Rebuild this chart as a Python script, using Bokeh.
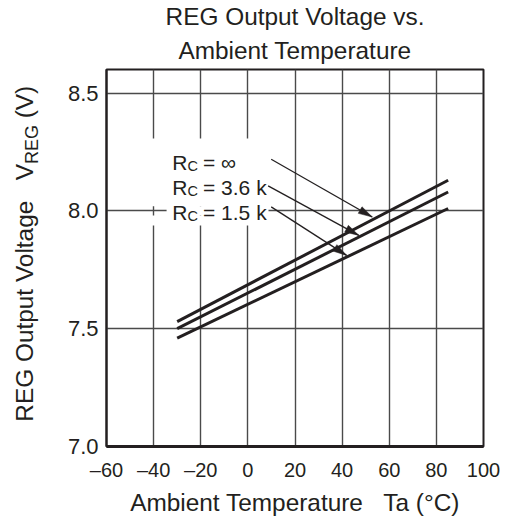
import math
from bokeh.plotting import figure
from bokeh.models import Label, FixedTicker, Title, Div
from bokeh.layouts import row
from bokeh.embed import file_html
from bokeh.resources import INLINE

# ---------------- data ----------------
temps = [-30, 85]
v_inf = [7.53, 8.13]
v_36 = [7.50, 8.08]
v_15 = [7.46, 8.01]

x_ticks = [-60, -40, -20, 0, 20, 40, 60, 80, 100]
x_tick_labels = ["\u201360", "\u201340", "\u201320", "0", "20", "40", "60", "80", "100"]
y_ticks = [7.0, 7.5, 8.0, 8.5]
y_tick_labels = ["7.0", "7.5", "8.0", "8.5"]

curve_names = ["\u221e", "3.6 k", "1.5 k"]
arrow_x0 = [9.9, 8.6, 9.9]
arrow_y0 = [8.219, 8.106, 8.017]
arrow_x1 = [52.8, 47.1, 41.9]
arrow_y1 = [7.974, 7.896, 7.811]

# ---------------- style ----------------
FONT = "Liberation Sans"
INK = "#231f20"
BIG = "24.4px"
X0, X1 = -60, 100
Y0, Y1 = 7.0, 8.6
FW = FH = 377
DIV_W = 45
CANVAS_H = 522

p = figure(frame_width=FW, frame_height=FH, x_range=(X0, X1), y_range=(Y0, Y1),
           output_backend="svg", toolbar_location=None, title=None,
           min_border_left=106 - DIV_W, min_border_right=27, min_border_top=69,
           min_border_bottom=CANVAS_H - 69 - FH,
           background_fill_color="white", border_fill_color="white")

p.xaxis.ticker = FixedTicker(ticks=x_ticks)
p.yaxis.ticker = FixedTicker(ticks=y_ticks)
p.xaxis.major_label_overrides = {t: s for t, s in zip(x_ticks, x_tick_labels)}
p.yaxis.major_label_overrides = {t: s for t, s in zip(y_ticks, y_tick_labels)}
p.xgrid.ticker = FixedTicker(ticks=x_ticks)
p.ygrid.ticker = FixedTicker(ticks=y_ticks)
for g in (p.xgrid, p.ygrid):
    g.grid_line_color = "#4a4a4a"
    g.grid_line_width = 1.4
    g.grid_line_alpha = 1.0

for ax in (p.xaxis, p.yaxis):
    ax.major_tick_line_color = None
    ax.minor_tick_line_color = None
    ax.major_tick_out = 0
    ax.major_tick_in = 0
    ax.major_label_text_font = FONT
    ax.major_label_text_color = INK
p.xaxis.major_label_text_font_size = "20px"
p.yaxis.major_label_text_font_size = "22px"
p.xaxis.major_label_standoff = 12
p.yaxis.major_label_standoff = 8
p.xaxis.axis_line_width = 3
p.xaxis.axis_line_color = INK
p.yaxis.axis_line_width = 2
p.yaxis.axis_line_color = INK
p.outline_line_color = INK
p.outline_line_width = 2
p.outline_line_alpha = 1.0

# x axis label
p.xaxis.axis_label = "Ambient Temperature\u00a0\u00a0\u00a0Ta (\u00b0C)"
p.xaxis.axis_label_text_font = FONT
p.xaxis.axis_label_text_font_size = BIG
p.xaxis.axis_label_text_font_style = "normal"
p.xaxis.axis_label_text_color = INK
p.xaxis.axis_label_standoff = 5

# title (two lines)
p.add_layout(Title(text="Ambient Temperature", align="center", text_font=FONT,
                   text_font_size=BIG, text_font_style="normal", text_color=INK,
                   standoff=11), "above")
p.add_layout(Title(text="REG Output Voltage vs.", align="center", text_font=FONT,
                   text_font_size=BIG, text_font_style="normal", text_color=INK,
                   standoff=0), "above")

# white mask behind the curve labels
p.quad(left=[-41.3, -41.3, -34.5], right=[8.75, 8.75, 8.75],
       bottom=[8.02, 7.938, 7.98], top=[8.307, 7.98, 8.02],
       fill_color="white", line_color=None)

# curves
for ys in (v_inf, v_36, v_15):
    p.line(temps, ys, line_width=3, line_color=INK)

# arrows
p.segment(x0=arrow_x0, y0=arrow_y0, x1=arrow_x1, y1=arrow_y1, line_width=1.3, line_color=INK)
sx = FW / (X1 - X0)
sy = FH / (Y1 - Y0)
head_xs, head_ys = [], []
for xa, ya, xb, yb in zip(arrow_x0, arrow_y0, arrow_x1, arrow_y1):
    dx, dy = (xb - xa) * sx, (yb - ya) * sy
    L = math.hypot(dx, dy)
    ux, uy = dx / L, dy / L
    bx, by = xb * sx - 14 * ux, yb * sy - 14 * uy
    px, py = -uy, ux
    pts = [(xb * sx, yb * sy), (bx + 3.8 * px, by + 3.8 * py), (bx - 3.8 * px, by - 3.8 * py)]
    head_xs.append([q[0] / sx for q in pts])
    head_ys.append([q[1] / sy for q in pts])
p.patches(head_xs, head_ys, fill_color=INK, line_color=INK, line_width=0.5)


def lab(text, x, y, size):
    p.add_layout(Label(x=x, y=y, x_units="screen", y_units="screen", text=text,
                       text_font=FONT, text_font_size=f"{size}px", text_color=INK,
                       text_align="left", text_baseline="alphabetic"))


# curve labels R_C = ...
for name, b in zip(curve_names, [284.3, 259.3, 234.3]):
    lab("R", 65.7, b, 21)
    lab("C", 80.9, b - 3.8, 14.5)
    lab("= " + name, 96.5, b, 21)

# rotated y axis label with subscript (HTML)
u0 = CANVAS_H - 421.7
ylab_html = (
    f'<div style="position:relative;width:{DIV_W}px;height:{CANVAS_H}px;overflow:visible;">'
    f'<div style="position:absolute;left:0;top:0;width:{CANVAS_H}px;height:{DIV_W}px;'
    f'transform-origin:0 0;transform:translate(0px,{CANVAS_H}px) rotate(-90deg);">'
    f'<span style="position:absolute;left:{u0:.1f}px;top:10.0px;white-space:nowrap;'
    f"font-family:'{FONT}';font-size:{BIG};line-height:30px;color:{INK};\">"
    'REG Output Voltage&nbsp;&nbsp;&nbsp;V<span style="font-size:18px;'
    'vertical-align:-4.8px;line-height:0;">REG</span> (V)</span></div></div>'
)
ydiv = Div(text=ylab_html, width=DIV_W, height=CANVAS_H, margin=(0, 0, 0, 0))

layout = row(ydiv, p, spacing=0)
open("out.html", "w").write(file_html(layout, INLINE))
